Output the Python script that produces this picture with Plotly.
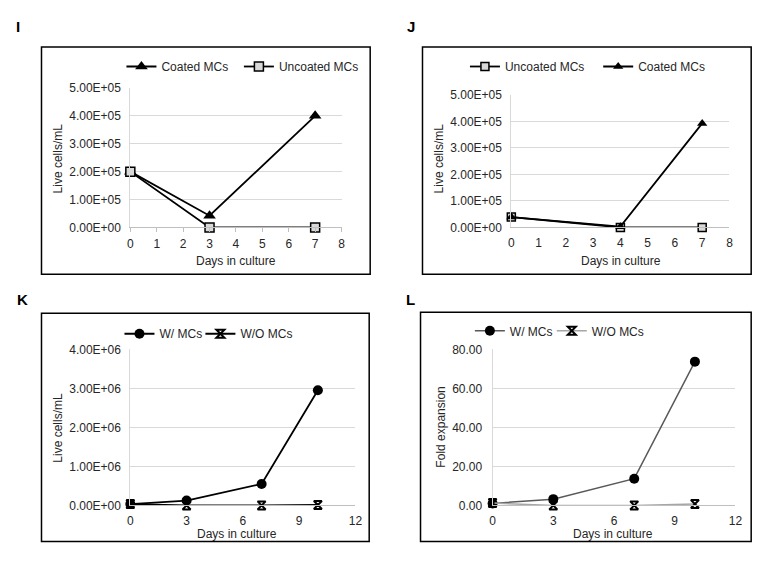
import plotly.graph_objects as go

# ---------------- data ----------------
days_I = [0, 3, 7]
coated_I = [2.0e5, 4.2e4, 4.0e5]
uncoated_I = [2.0e5, 0, 0]

days_J = [0, 4, 7]
uncoated_J = [3.9e4, 0, 0]
coated_J = [3.9e4, 3.0e3, 3.92e5]

days_K = [0, 3, 7, 10]
with_K = [3.3e4, 1.25e5, 5.5e5, 2.95e6]
without_K = [3.3e4, 0, 0, 1.0e4]

days_L = [0, 3, 7, 10]
with_L = [1.0, 3.2, 13.7, 73.7]
without_L = [1.2, 0, 0, 0.7]

yt_IJ = [0, 1e5, 2e5, 3e5, 4e5, 5e5]
yt_IJ_text = ["0.00E+00", "1.00E+05", "2.00E+05", "3.00E+05", "4.00E+05", "5.00E+05"]
yt_K = [0, 1e6, 2e6, 3e6, 4e6]
yt_K_text = ["0.00E+00", "1.00E+06", "2.00E+06", "3.00E+06", "4.00E+06"]
yt_L = [0, 20, 40, 60, 80]
yt_L_text = ["0.00", "20.00", "40.00", "60.00", "80.00"]
xt_IJ = [0, 1, 2, 3, 4, 5, 6, 7, 8]
xt_KL = [0, 3, 6, 9, 12]

W, H = 772, 568
FONT = "Liberation Sans, Arial, sans-serif"
GRID = "#d9d9d9"
TXT = "#262626"


def px(x):
    return x / W


def py(y):
    return 1 - y / H


fig = go.Figure()

TRI = dict(symbol="triangle-up", color="black")
SQ = dict(symbol="square", color="#d9d9d9", line=dict(color="black", width=1.5))
CIR = dict(symbol="circle", color="black")
HG = dict(symbol="hourglass-open", color="black", line=dict(width=2))


def add(x, y, name, xa, ya, leg, lcolor, lwidth, marker, msize):
    m = dict(marker)
    m["size"] = msize
    fig.add_trace(go.Scatter(x=x, y=y, name=name, mode="lines+markers",
                             line=dict(color=lcolor, width=lwidth), marker=m,
                             cliponaxis=False, xaxis=xa, yaxis=ya, legend=leg))


# Panel I
add(days_I, coated_I, "Coated MCs", "x", "y", "legend", "black", 1.8, TRI, 11)
add(days_I, uncoated_I, "Uncoated MCs", "x", "y", "legend2", "black", 1.8, SQ, 9)
# Panel J
add(days_J, uncoated_J, "Uncoated MCs", "x2", "y2", "legend3", "black", 1.8, SQ, 8)
add(days_J, coated_J, "Coated MCs", "x2", "y2", "legend4", "black", 1.8, TRI, 9)
# Panel K
add(days_K, with_K, "W/ MCs", "x3", "y3", "legend5", "black", 1.8, CIR, 10)
add(days_K, without_K, "W/O MCs", "x3", "y3", "legend6", "black", 1.8, HG, 8)
# Panel L
add(days_L, with_L, "W/ MCs", "x4", "y4", "legend7", "#595959", 1.5, CIR, 10)
add(days_L, without_L, "W/O MCs", "x4", "y4", "legend8", "#a6a6a6", 1.5, HG, 8)

tickfont = dict(family=FONT, size=12, color=TXT)


def xaxis(dom, rng, tv, ticks, anchor, standoff):
    return dict(domain=dom, range=rng, tickvals=tv, showgrid=False, zeroline=False,
                showline=True, linecolor="#bfbfbf", linewidth=1,
                ticks=ticks, ticklen=4, tickcolor="#bfbfbf", ticklabelstandoff=standoff,
                tickfont=tickfont, anchor=anchor, fixedrange=True)


def yaxis(dom, rng, tv, tt, anchor, standoff):
    return dict(domain=dom, range=rng, tickvals=tv, ticktext=tt, showgrid=True,
                gridcolor=GRID, gridwidth=1, zeroline=False,
                showline=True, linecolor=GRID, linewidth=1, ticks="",
                ticklabelstandoff=standoff,
                tickfont=tickfont, anchor=anchor, fixedrange=True)


layout = dict(
    width=W, height=H, margin=dict(l=0, r=0, t=0, b=0),
    paper_bgcolor="white", plot_bgcolor="white",
    font=dict(family=FONT, size=12, color=TXT),
    xaxis=xaxis([px(129), px(343)], [0, 8], xt_IJ, "outside", "y", 1),
    yaxis=yaxis([py(226), py(83)], [0, 5e5], yt_IJ, yt_IJ_text, "x", 6),
    xaxis2=xaxis([px(515), px(736)], [0, 8], xt_IJ, "", "y2", 4),
    yaxis2=yaxis([py(226), py(90)], [0, 5e5], yt_IJ, yt_IJ_text, "x2", 6),
    xaxis3=xaxis([px(129), px(357)], [0, 12], xt_KL, "", "y3", 4),
    yaxis3=yaxis([py(511), py(351)], [0, 4e6], yt_K, yt_K_text, "x3", 6),
    xaxis4=xaxis([px(496), px(742)], [0, 12], xt_KL, "", "y4", 4),
    yaxis4=yaxis([py(511), py(351)], [0, 80], yt_L, yt_L_text, "x4", 7),
)

legfont = dict(family=FONT, size=12, color=TXT)


def legend(x, y):
    return dict(orientation="h", x=px(x), y=py(y), xanchor="left", yanchor="middle",
                bgcolor="rgba(0,0,0,0)", borderwidth=0, font=legfont,
                itemclick=False, itemdoubleclick=False, tracegroupgap=0)


leg_pos = [(120, 61), (239, 61), (468, 61), (603, 61),
           (118, 335), (200, 335), (473, 332), (556, 332)]
for i, (lx, ly) in enumerate(leg_pos):
    key = "legend" if i == 0 else "legend%d" % (i + 1)
    layout[key] = legend(lx, ly)
layout["showlegend"] = True

fig.update_layout(**layout)

# panel borders
boxes = [(39, 41, 372, 274), (425, 41, 758, 274), (39, 314, 371, 548), (423, 313, 758, 548)]
for (x0, y0, x1, y1) in boxes:
    fig.add_shape(type="rect", xref="paper", yref="paper",
                  x0=px(x0), x1=px(x1), y0=py(y0), y1=py(y1),
                  line=dict(color="black", width=1.5), fillcolor="rgba(0,0,0,0)")

# panel letters
for lab, x, y in [("I", 15, 20), ("J", 413, 20), ("K", 20, 300), ("L", 413, 300)]:
    fig.add_annotation(text="<b>%s</b>" % lab, x=px(x), y=py(y), xref="paper", yref="paper",
                       showarrow=False, xanchor="center", yanchor="middle",
                       font=dict(family=FONT, size=15, color="black"))

# axis titles
xtitles = [("Days in culture", 236, 260), ("Days in culture", 626, 260),
           ("Days in culture", 237, 540), ("Days in culture", 618, 540)]
for t, x, y in xtitles:
    fig.add_annotation(text=t, x=px(x), y=py(y), xref="paper", yref="paper",
                       showarrow=False, xanchor="center", yanchor="middle", font=legfont)
ytitles = [("Live cells/mL", 56, 155), ("Live cells/mL", 442, 155),
           ("Live cells/mL", 56, 431), ("Fold expansion", 444, 431)]
for t, x, y in ytitles:
    fig.add_annotation(text=t, x=px(x), y=py(y), xref="paper", yref="paper", textangle=-90,
                       showarrow=False, xanchor="center", yanchor="middle", font=legfont)

fig.write_html("out.html", config={"displayModeBar": False},
               post_script="document.body.style.margin='0';document.body.style.overflow='hidden';")
